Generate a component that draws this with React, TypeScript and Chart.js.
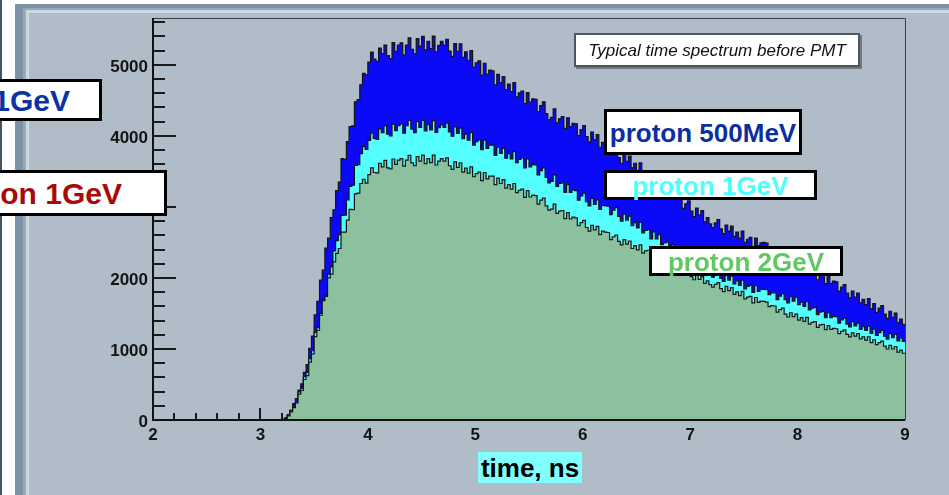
import React, { useEffect, useRef } from "react";
import { Chart, registerables } from "chart.js";

Chart.register(...registerables);

// ---- axes ----
const X_TICKS = [2, 3, 4, 5, 6, 7, 8, 9];
const Y_TICKS = [0, 1000, 2000, 3000, 4000, 5000];
const X_MIN = 2;
const X_MAX = 9;
const Y_MIN = 0;
const Y_MAX = 5660;
const X_MINOR_STEP = 0.2;
const Y_MINOR_STEP = 200;

// ---- histogram binning: empty from 2 to 3.2 ns, then 0.025 ns bins up to 9 ns ----
const HIST_START = 3.2;
const BIN_WIDTH = 0.025;

// counts per bin; each row covers 0.5 ns
const proton500MeV = [
  10, 30, 75, 135, 230, 300, 420, 510, 670, 780, 1010, 1180, 1480, 1670, 1970, 2110, 2420, 2560, 2850, 2960,
  3230, 3350, 3680, 3670, 3920, 4130, 4140, 4480, 4510, 4720, 4880, 4860, 5040, 5180, 5080, 5050, 5235, 5160, 5280, 5130,
  5090, 5315, 5190, 5280, 5310, 5140, 5280, 5380, 5220, 5160, 5370, 5265, 5400, 5210, 5330, 5230, 5405, 5185, 5275, 5330,
  5280, 5360, 5195, 5120, 5300, 5190, 5295, 5105, 5185, 5065, 5200, 4970, 5030, 5055, 4855, 5020, 4870, 4925, 4915, 4720,
  4865, 4750, 4835, 4650, 4730, 4625, 4750, 4550, 4605, 4630, 4455, 4610, 4475, 4520, 4515, 4340, 4425, 4480, 4315, 4230,
  4260, 4380, 4185, 4240, 4270, 4105, 4255, 4130, 4175, 4170, 4005, 4090, 4145, 3990, 3915, 4055, 3945, 4020, 3840, 3910,
  3890, 3885, 3725, 3800, 3845, 3695, 3615, 3745, 3640, 3715, 3550, 3615, 3515, 3620, 3430, 3470, 3485, 3320, 3450, 3325,
  3405, 3215, 3250, 3265, 3105, 3235, 3110, 3145, 3135, 2980, 3045, 3085, 2940, 2865, 2985, 2885, 2950, 2790, 2850, 2760,
  2710, 2775, 2820, 2690, 2625, 2745, 2660, 2730, 2585, 2645, 2560, 2660, 2500, 2545, 2570, 2430, 2560, 2455, 2495, 2500,
  2490, 2385, 2420, 2415, 2285, 2345, 2385, 2260, 2195, 2305, 2215, 2275, 2140, 2190, 2110, 2205, 2050, 2090, 2110, 1975,
  2030, 2045, 1920, 2025, 1925, 1955, 1945, 1815, 1870, 1905, 1785, 1720, 1815, 1730, 1785, 1650, 1700, 1625, 1710, 1565,
  1640, 1515, 1575, 1610, 1490, 1430, 1530, 1445, 1505, 1370, 1420, 1345,
];

const proton1GeV = [
  8, 22, 67, 135, 185, 250, 395, 445, 610, 670, 865, 975, 1235, 1300, 1500, 1685, 1755, 2055, 2155, 2380,
  2525, 2610, 2880, 2885, 3100, 3290, 3305, 3585, 3595, 3750, 3850, 3810, 3935, 4040, 3965, 3950, 4100, 4045, 4140, 4025,
  4000, 4165, 4075, 4145, 4170, 4040, 4145, 4220, 4095, 4045, 4200, 4120, 4220, 4070, 4160, 4085, 4215, 4050, 4115, 4155,
  4120, 4180, 4055, 3995, 4125, 4035, 4110, 3960, 4025, 3940, 4045, 3870, 3920, 3945, 3805, 3940, 3825, 3870, 3870, 3725,
  3840, 3755, 3825, 3685, 3750, 3675, 3780, 3625, 3670, 3690, 3550, 3675, 3565, 3595, 3590, 3450, 3510, 3550, 3415, 3340,
  3360, 3450, 3290, 3330, 3340, 3205, 3315, 3205, 3240, 3230, 3095, 3155, 3195, 3075, 3015, 3120, 3035, 3100, 2965, 3020,
  3015, 3010, 2890, 2955, 2990, 2865, 2800, 2900, 2815, 2870, 2735, 2780, 2705, 2785, 2635, 2670, 2680, 2550, 2650, 2550,
  2610, 2470, 2495, 2505, 2375, 2465, 2370, 2385, 2370, 2245, 2290, 2315, 2200, 2140, 2225, 2145, 2200, 2075, 2120, 2050,
  2010, 2060, 2095, 1995, 1950, 2035, 1970, 2025, 1915, 1960, 1895, 1970, 1845, 1880, 1900, 1795, 1890, 1810, 1840, 1840,
  1835, 1765, 1790, 1790, 1695, 1745, 1780, 1695, 1650, 1735, 1675, 1730, 1625, 1660, 1600, 1665, 1550, 1575, 1585, 1485,
  1520, 1530, 1440, 1510, 1440, 1460, 1455, 1365, 1410, 1435, 1350, 1310, 1385, 1325, 1365, 1275, 1315, 1260, 1320, 1220,
  1280, 1190, 1230, 1260, 1180, 1140, 1215, 1160, 1205, 1115, 1155, 1105,
];

const proton2GeV = [
  6, 18, 57, 115, 175, 240, 365, 415, 570, 625, 815, 930, 1175, 1260, 1475, 1680, 1740, 2000, 2055, 2225,
  2345, 2415, 2645, 2645, 2815, 2965, 2960, 3185, 3195, 3330, 3390, 3335, 3455, 3550, 3485, 3480, 3615, 3565, 3655, 3550,
  3535, 3675, 3600, 3660, 3680, 3575, 3660, 3725, 3620, 3580, 3710, 3645, 3730, 3610, 3680, 3625, 3730, 3590, 3645, 3680,
  3645, 3690, 3580, 3530, 3635, 3555, 3620, 3490, 3545, 3475, 3565, 3425, 3468, 3490, 3370, 3485, 3395, 3435, 3435, 3315,
  3405, 3330, 3385, 3265, 3315, 3250, 3330, 3200, 3232, 3250, 3135, 3230, 3140, 3165, 3160, 3040, 3095, 3125, 3015, 2955,
  2970, 3040, 2910, 2940, 2950, 2835, 2920, 2830, 2855, 2845, 2735, 2780, 2810, 2710, 2660, 2740, 2675, 2725, 2610, 2660,
  2645, 2640, 2540, 2580, 2605, 2515, 2465, 2540, 2475, 2520, 2415, 2455, 2395, 2465, 2350, 2380, 2390, 2285, 2365, 2285,
  2330, 2220, 2240, 2245, 2150, 2220, 2145, 2160, 2150, 2055, 2090, 2110, 2020, 1975, 2045, 1980, 2020, 1925, 1960, 1905,
  1870, 1910, 1935, 1850, 1808, 1880, 1822, 1865, 1770, 1805, 1750, 1810, 1705, 1730, 1740, 1650, 1725, 1655, 1675, 1670,
  1660, 1595, 1610, 1605, 1520, 1555, 1575, 1490, 1450, 1510, 1455, 1490, 1405, 1440, 1390, 1445, 1350, 1375, 1385, 1305,
  1338, 1345, 1272, 1330, 1276, 1290, 1285, 1215, 1248, 1270, 1205, 1170, 1228, 1182, 1215, 1142, 1170, 1125, 1172, 1090,
  1130, 1060, 1090, 1110, 1040, 1000, 1050, 1000, 1035, 955, 985, 940,
];

const SERIES_LABELS = ["proton 500MeV", "proton 1GeV", "proton 2GeV"];
const TITLE = "Typical time spectrum before PMT";
const X_TITLE = "time, ns";
const CUT_LABELS = ["1GeV", "on 1GeV"];

const W = 949;
const H = 495;
const FONT = "'Liberation Sans', Arial, Helvetica, sans-serif";

function toPoints(values: number[]) {
  const pts: { x: number; y: number }[] = [
    { x: X_MIN, y: 0 },
    { x: HIST_START, y: 0 },
  ];
  values.forEach((v, i) => {
    pts.push({ x: +(HIST_START + (i + 1) * BIN_WIDTH).toFixed(4), y: v });
  });
  return pts;
}

const rootFrame = {
  id: "rootFrame",
  beforeDraw(chart: any) {
    const ctx = chart.ctx;
    ctx.save();
    ctx.fillStyle = "#ffffff";
    ctx.fillRect(0, 0, W, H);
    ctx.fillStyle = "#3e5468";
    ctx.fillRect(0, 0, 2, H);
    ctx.fillStyle = "#7d92a7";
    ctx.fillRect(15, 4, W - 15, H - 4);
    ctx.fillStyle = "#97a9ba";
    ctx.fillRect(23, 8, W - 23, H - 8);
    ctx.fillStyle = "#cdd7df";
    ctx.fillRect(26, 10, W - 26, H - 10);
    ctx.fillStyle = "#b0bdc8";
    ctx.fillRect(29, 13, W - 29, H - 13);
    ctx.restore();
  },
  beforeDatasetsDraw(chart: any) {
    const { ctx, chartArea: a, scales } = chart;
    const x = scales.x;
    const y = scales.y;
    ctx.save();
    ctx.strokeStyle = "#1a1a1a";
    ctx.lineWidth = 2;
    ctx.beginPath();
    const nx = Math.round((X_MAX - X_MIN) / X_MINOR_STEP);
    for (let i = 0; i <= nx; i++) {
      const px = Math.round(x.getPixelForValue(X_MIN + i * X_MINOR_STEP));
      const len = i % 5 === 0 ? 12 : 7;
      ctx.moveTo(px, a.bottom);
      ctx.lineTo(px, a.bottom - len);
    }
    const ny = Math.floor((Y_MAX - Y_MIN) / Y_MINOR_STEP);
    for (let i = 0; i <= ny; i++) {
      const py = Math.round(y.getPixelForValue(Y_MIN + i * Y_MINOR_STEP));
      const len = i % 5 === 0 ? 23 : 12;
      ctx.moveTo(a.left, py);
      ctx.lineTo(a.left + len, py);
    }
    ctx.stroke();
    ctx.restore();
  },
  afterDatasetsDraw(chart: any) {
    const { ctx, chartArea: a } = chart;
    ctx.save();
    ctx.strokeStyle = "#3a3f45";
    ctx.lineWidth = 1;
    ctx.beginPath();
    ctx.moveTo(a.left, a.top + 0.5);
    ctx.lineTo(a.right + 0.5, a.top + 0.5);
    ctx.lineTo(a.right + 0.5, a.bottom);
    ctx.stroke();
    ctx.strokeStyle = "#111";
    ctx.lineWidth = 2;
    ctx.beginPath();
    ctx.moveTo(a.left, a.top);
    ctx.lineTo(a.left, a.bottom);
    ctx.lineTo(a.right, a.bottom);
    ctx.stroke();
    ctx.restore();
  },
};

const boxBase: React.CSSProperties = {
  position: "absolute",
  boxSizing: "border-box",
  background: "#ffffff",
  border: "3px solid #000",
  display: "flex",
  alignItems: "center",
  whiteSpace: "nowrap",
  lineHeight: 1,
  fontFamily: FONT,
  fontWeight: "bold",
};

export default function App() {
  const ref = useRef<HTMLCanvasElement | null>(null);

  useEffect(() => {
    if (!ref.current) return;
    const common = {
      stepped: "after" as const,
      pointRadius: 0,
      borderColor: "#141414",
      borderWidth: 1.2,
      fill: "origin",
      tension: 0,
    };
    const chart = new Chart(ref.current, {
      type: "line",
      data: {
        datasets: [
          { ...common, label: SERIES_LABELS[2], data: toPoints(proton2GeV), backgroundColor: "#8cc1a0" },
          { ...common, label: SERIES_LABELS[1], data: toPoints(proton1GeV), backgroundColor: "#55ffff" },
          { ...common, label: SERIES_LABELS[0], data: toPoints(proton500MeV), backgroundColor: "#0a0af8" },
        ],
      },
      options: {
        animation: false,
        responsive: false,
        devicePixelRatio: 1,
        layout: { padding: { left: 93, top: 18, right: 44, bottom: 35 } },
        plugins: {
          legend: { display: false },
          tooltip: { enabled: false },
          title: { display: false },
        },
        scales: {
          x: {
            type: "linear",
            min: X_MIN,
            max: X_MAX,
            grid: { display: false, drawTicks: false },
            border: { display: false },
            afterBuildTicks: (s: any) => {
              s.ticks = X_TICKS.map((v) => ({ value: v }));
            },
            afterFit: (s: any) => {
              s.height = 40;
            },
            ticks: {
              autoSkip: false,
              maxRotation: 0,
              padding: 5,
              color: "#141414",
              font: { family: FONT, size: 17, weight: "bold" },
              callback: (v: any) => String(v),
            },
          },
          y: {
            type: "linear",
            min: Y_MIN,
            max: Y_MAX,
            grid: { display: false, drawTicks: false },
            border: { display: false },
            afterBuildTicks: (s: any) => {
              s.ticks = Y_TICKS.map((v) => ({ value: v }));
            },
            afterFit: (s: any) => {
              s.width = 60;
            },
            ticks: {
              autoSkip: false,
              padding: 5,
              labelOffset: 2,
              color: "#141414",
              font: { family: FONT, size: 17, weight: "bold" },
              callback: (v: any) => String(v),
            },
          },
        },
      },
      plugins: [rootFrame],
    } as any);
    return () => chart.destroy();
  }, []);

  return (
    <div style={{ position: "absolute", left: 0, top: 0, width: W, height: H, overflow: "hidden" }}>
      <canvas ref={ref} width={W} height={H} style={{ display: "block", width: W, height: H }} />

      {/* labels cut at the left edge of the slide */}
      <div style={{ ...boxBase, left: -120, top: 79, width: 222, height: 42, justifyContent: "flex-end", paddingRight: 29, paddingTop: 2, color: "#0a34a0", fontSize: 30 }}>
        {CUT_LABELS[0]}
      </div>
      <div style={{ ...boxBase, left: -100, top: 170, width: 267, height: 46, justifyContent: "flex-end", paddingRight: 42, paddingTop: 2, color: "#a80a0a", fontSize: 30 }}>
        {CUT_LABELS[1]}
      </div>

      {/* title pave */}
      <div
        style={{
          position: "absolute",
          left: 574,
          top: 33,
          width: 286,
          height: 34,
          boxSizing: "border-box",
          background: "#ffffff",
          border: "2px solid #50565c",
          boxShadow: "2px 2px 0 #6f7983",
          display: "flex",
          alignItems: "center",
          justifyContent: "center",
          whiteSpace: "nowrap",
          fontFamily: FONT,
          fontStyle: "italic",
          fontSize: 17,
          color: "#111",
          lineHeight: 1,
        }}
      >
        {TITLE}
      </div>

      {/* series labels */}
      <div style={{ ...boxBase, left: 604, top: 109, width: 198, height: 46, justifyContent: "center", paddingTop: 2, color: "#0b2f9c", fontSize: 26 }}>
        {SERIES_LABELS[0]}
      </div>
      <div style={{ ...boxBase, left: 604, top: 170, width: 213, height: 30, justifyContent: "center", paddingTop: 1, color: "#4dffff", fontSize: 26 }}>
        {SERIES_LABELS[1]}
      </div>
      <div style={{ ...boxBase, left: 649, top: 246, width: 194, height: 30, justifyContent: "center", paddingTop: 1, color: "#62c862", fontSize: 26 }}>
        {SERIES_LABELS[2]}
      </div>

      {/* x axis title */}
      <div
        style={{
          position: "absolute",
          left: 478,
          top: 452,
          width: 104,
          height: 31,
          background: "#80ffff",
          display: "flex",
          alignItems: "center",
          justifyContent: "center",
          whiteSpace: "nowrap",
          fontFamily: FONT,
          fontWeight: "bold",
          fontSize: 26,
          color: "#000",
          lineHeight: 1,
        }}
      >
        {X_TITLE}
      </div>
    </div>
  );
}
